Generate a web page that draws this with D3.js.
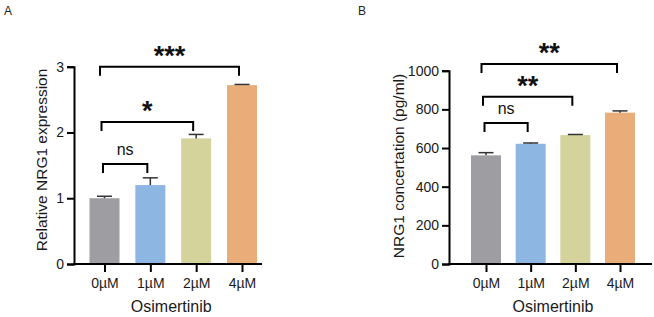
<!DOCTYPE html>
<html>
<head>
<meta charset="utf-8">
<script src="https://cdn.jsdelivr.net/npm/d3@7"></script>
<style>
  body { margin: 0; background: #fff; }
  svg { font-family: Arial, "Liberation Sans", sans-serif; }
  .axis path, .axis line { stroke: #000; stroke-width: 2; }
  .axis text { font-size: 14px; fill: #1a1a1a; }
</style>
</head>
<body>
<div id="chart"></div>
<script>
// categories
const doses = ["0µM", "1µM", "2µM", "4µM"];
const barColors = ["#9d9da2", "#8db6e2", "#d3d39b", "#e9ad7a"];

// panel A: relative NRG1 expression
const exprMean = [1.0, 1.2, 1.91, 2.72];
const exprErr = [0.03, 0.11, 0.06, 0.01];
const exprTicks = [0, 1, 2, 3];
const exprSig = [
    { from: 0, to: 1, level: 1.52, label: "ns" },
    { from: 0, to: 2, level: 2.16, label: "*" },
    { from: 0, to: 3, level: 3.0, label: "***" }
];

// panel B: NRG1 concentration
const concMean = [562, 622, 667, 783];
const concErr = [14, 4, 3, 9];
const concTicks = [0, 200, 400, 600, 800, 1000];
const concSig = [
    { from: 0, to: 1, level: 730, label: "ns" },
    { from: 0, to: 2, level: 865, label: "**" },
    { from: 0, to: 3, level: 1035, label: "**" }
];

const width = 654, height = 317;

const svg = d3.select("#chart")
    .append("svg")
    .attr("width", width)
    .attr("height", height);

function drawPanel(opt) {
    const g = svg.append("g");

    const y = d3.scaleLinear()
        .domain([0, opt.ticks[opt.ticks.length - 1]])
        .range([264, opt.yTop]);

    const x = d3.scalePoint()
        .domain(doses)
        .range([opt.firstX, opt.lastX]);

    const barW = 30;

    // bars
    g.selectAll(".bar")
        .data(opt.mean)
        .join("rect")
        .attr("class", "bar")
        .attr("x", (d, i) => x(doses[i]) - barW / 2)
        .attr("y", d => y(d))
        .attr("width", barW)
        .attr("height", d => y(0) - y(d))
        .attr("fill", (d, i) => barColors[i]);

    // error bars (upper only)
    opt.mean.forEach(function (m, i) {
        const cx = x(doses[i]);
        g.append("line")
            .attr("x1", cx).attr("x2", cx)
            .attr("y1", y(m)).attr("y2", y(m + opt.err[i]))
            .attr("stroke", "#333").attr("stroke-width", 1.5);
        g.append("line")
            .attr("x1", cx - 7.5).attr("x2", cx + 7.5)
            .attr("y1", y(m + opt.err[i])).attr("y2", y(m + opt.err[i]))
            .attr("stroke", "#333").attr("stroke-width", 1.5);
    });

    // y axis
    g.append("g")
        .attr("class", "axis")
        .attr("transform", `translate(${opt.axisX},0)`)
        .call(d3.axisLeft(y).tickValues(opt.ticks).tickFormat(d3.format("d"))
            .tickSizeOuter(0).tickSize(7).tickPadding(3));

    // x axis
    const xa = g.append("g")
        .attr("class", "axis")
        .attr("transform", "translate(0,264)")
        .call(d3.axisBottom(x).tickSize(8).tickSizeOuter(0).tickPadding(6));
    xa.select(".domain").remove();
    g.append("line")
        .attr("x1", opt.axisX - 1).attr("x2", opt.axisEnd)
        .attr("y1", 264).attr("y2", 264)
        .attr("stroke", "#000").attr("stroke-width", 2);

    // axis titles
    g.append("text")
        .attr("x", (opt.firstX + opt.lastX) / 2 + opt.titleShift)
        .attr("y", 312)
        .attr("text-anchor", "middle")
        .attr("font-size", "16px")
        .attr("fill", "#1a1a1a")
        .text("Osimertinib");

    g.append("text")
        .attr("transform", `translate(${opt.yTitleX},${opt.yTitleY}) rotate(-90)`)
        .attr("text-anchor", "middle")
        .attr("font-size", "15.5px")
        .attr("fill", "#1a1a1a")
        .text(opt.yTitle);

    // panel letter
    g.append("text")
        .attr("x", opt.letterX)
        .attr("y", 15)
        .attr("font-size", "12px")
        .attr("fill", "#222")
        .text(opt.letter);

    // significance brackets
    opt.sig.forEach(function (s, k) {
        const x1 = x(doses[s.from]) - 1.5 - 1.5 * k;
        const x2 = x(doses[s.to]) - 3;
        const yy = y(s.level);
        g.append("path")
            .attr("d", `M${x1},${yy + 9}V${yy}H${x2}V${yy + 9}`)
            .attr("fill", "none")
            .attr("stroke", "#000")
            .attr("stroke-width", 2);
        const isNs = s.label === "ns";
        g.append("text")
            .attr("x", (x1 + x2) / 2)
            .attr("y", isNs ? yy - 9 : yy - 2)
            .attr("text-anchor", "middle")
            .attr("font-size", isNs ? "16px" : "27px")
            .attr("font-weight", isNs ? "normal" : "bold")
            .attr("fill", "#111")
            .text(s.label);
    });
}

drawPanel({
    mean: exprMean, err: exprErr, ticks: exprTicks, sig: exprSig,
    yTop: 66.7, firstX: 104.5, lastX: 242, axisX: 74, axisEnd: 262,
    titleShift: -2, yTitle: "Relative NRG1 expression", yTitleX: 47, yTitleY: 160,
    letter: "A", letterX: 4
});

drawPanel({
    mean: concMean, err: concErr, ticks: concTicks, sig: concSig,
    yTop: 70.7, firstX: 486, lastX: 620, axisX: 449, axisEnd: 652,
    titleShift: 0, yTitle: "NRG1 concertation (pg/ml)", yTitleX: 404, yTitleY: 166,
    letter: "B", letterX: 358
});
</script>
</body>
</html>
